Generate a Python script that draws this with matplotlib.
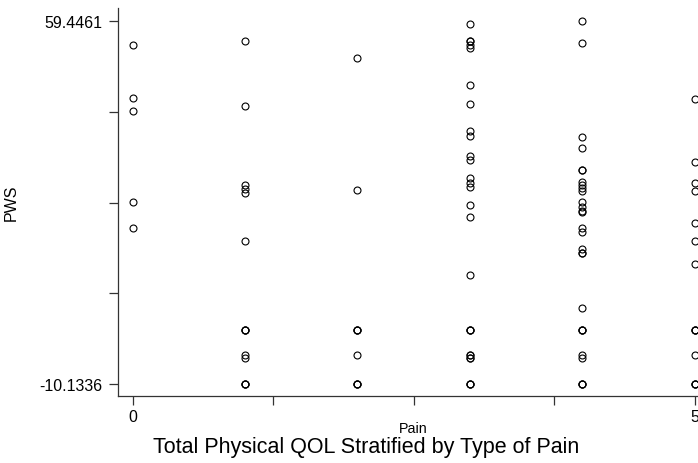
import matplotlib.pyplot as plt

plt.rcParams['font.family'] = ['Liberation Sans', 'DejaVu Sans']

# PWS values, one list per pain type
pain_types = [0, 1, 2, 3, 4, 5]

pws_0 = [54.84, 44.78, 42.28, 24.75, 19.70]
pws_1 = [55.72, 43.24, 28.07, 27.25, 26.42, 17.26,
         0.17, 0.17, 0.17, -4.57, -5.20, -10.1336, -10.1336, -10.1336]
pws_2 = [52.40, 27.06, 0.17, 0.17, 0.17, -4.57,
         -10.1336, -10.1336, -10.1336]
pws_3 = [58.93, 55.72, 55.72, 54.90, 54.32, 47.22, 43.51, 38.33, 37.48,
         33.64, 32.76, 29.36, 28.40, 27.54, 24.27, 21.87, 10.68,
         0.17, 0.17, 0.17, -4.57, -4.57, -5.20, -5.20,
         -10.1336, -10.1336, -10.1336]
pws_4 = [59.4461, 55.22, 37.29, 35.06, 30.89, 30.89, 28.65, 28.07, 27.44,
         26.92, 24.81, 23.73, 23.08, 22.77, 19.70, 18.93, 15.73, 14.96,
         14.96, 4.46, 0.17, 0.17, 0.17, -4.57, -5.20,
         -10.1336, -10.1336, -10.1336]
pws_5 = [44.47, 32.37, 28.40, 26.81, 20.72, 17.21, 12.79,
         0.17, 0.17, 0.17, -4.57, -10.1336, -10.1336, -10.1336]

groups = [pws_0, pws_1, pws_2, pws_3, pws_4, pws_5]

y_min = -10.1336
y_max = 59.4461

fig = plt.figure(figsize=(6.98, 4.64), dpi=100)
ax = fig.add_axes([118 / 698, 1 - 397 / 464, 580 / 698, 388 / 464])

for p, vals in zip(pain_types, groups):
    ax.plot([p] * len(vals), vals, linestyle='none', marker='o',
            markersize=5.0, markerfacecolor='none', markeredgecolor='black',
            markeredgewidth=0.8)

ax.set_xlim(-0.129, 5.031)
ax.set_ylim(-12.495, 62.0)

for side in ['top', 'right']:
    ax.spines[side].set_visible(False)
for side in ['left', 'bottom']:
    ax.spines[side].set_linewidth(0.9)
    ax.spines[side].set_color('#333333')

# ticks: five along each axis, labels only at the ends
step_y = (y_max - y_min) / 4
ax.set_yticks([y_min + i * step_y for i in range(5)])
ax.set_yticklabels(['-10.1336', '', '', '', '59.4461'])
ax.set_xticks([0, 1.25, 2.5, 3.75, 5])
ax.set_xticklabels(['0', '', '', '', '5'])

ax.tick_params(axis='both', direction='out', length=6.5, width=0.9,
               color='#333333', labelsize=11.5)
ax.tick_params(axis='y', pad=5)
ax.tick_params(axis='x', pad=3)

ax.set_ylabel('PWS', fontsize=11.5)
ax.yaxis.set_label_coords(-99 / 580, 0.5)

fig.text(413.5 / 698, 1 - 429 / 464, 'Pain', ha='center', va='center', fontsize=10.3)
fig.text(366 / 698, 1 - 448 / 464, 'Total Physical QOL Stratified by Type of Pain',
         ha='center', va='center', fontsize=15.5)

fig.savefig('out.png', dpi=100)
